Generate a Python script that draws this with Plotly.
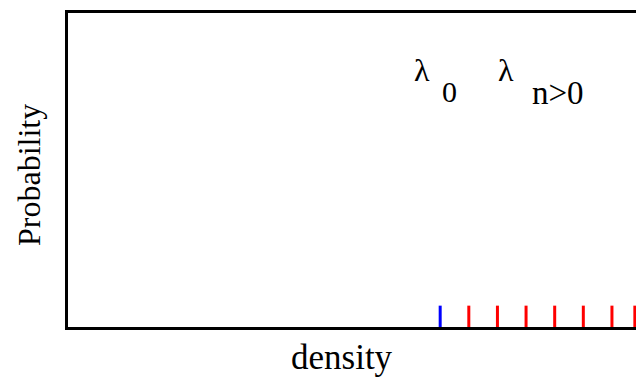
import plotly.graph_objects as go

# Data
ground_level = [13.0]                       # lambda_0 (blue)
excited_levels = [14.0, 15.0, 16.0, 17.0, 18.0, 19.0, 19.8]  # lambda_{n>0} (red)
tick_height = 0.068
x_range = [0.0, 19.84]
y_range = [0.0, 1.0]

def segs(vals, h):
    xs, ys = [], []
    for v in vals:
        xs += [v, v, None]
        ys += [0, h, None]
    return xs, ys

fig = go.Figure()
bx, by = segs(ground_level, tick_height)
rx, ry = segs(excited_levels, tick_height)
fig.add_trace(go.Scatter(x=bx, y=by, mode="lines", line=dict(color="#0000ff", width=3),
                         showlegend=False, hoverinfo="skip"))
fig.add_trace(go.Scatter(x=rx, y=ry, mode="lines", line=dict(color="#ff0000", width=3),
                         showlegend=False, hoverinfo="skip"))

font = "Liberation Serif, Times New Roman, serif"
fig.update_layout(
    width=636, height=379,
    margin=dict(l=68, r=0, t=13, b=52),
    paper_bgcolor="white", plot_bgcolor="white",
    font=dict(family=font, color="black"),
    xaxis=dict(range=x_range, showgrid=False, zeroline=False, showticklabels=False,
               ticks="", showline=True, linecolor="black", linewidth=3, mirror=True,
               fixedrange=True),
    yaxis=dict(range=y_range, showgrid=False, zeroline=False, showticklabels=False,
               ticks="", showline=True, linecolor="black", linewidth=3, mirror=False,
               fixedrange=True),
)

ann = [
    dict(text="λ", x=0.623, y=0.818, size=32),
    dict(text="0", x=0.6725, y=0.75, size=30),
    dict(text="λ", x=0.771, y=0.818, size=32),
    dict(text="n&gt;0", x=0.8627, y=0.745, size=33),
]
for a in ann:
    fig.add_annotation(text=a["text"], x=a["x"], y=a["y"], xref="paper", yref="paper",
                       showarrow=False, xanchor="center", yanchor="middle",
                       font=dict(family=font, size=a["size"], color="black"))

fig.add_annotation(text="density", x=(341.5 - 68) / 568, y=-0.097, xref="paper", yref="paper",
                   showarrow=False, xanchor="center", yanchor="middle",
                   font=dict(family=font, size=35, color="black"))
fig.add_annotation(text="Probability", x=(29 - 68) / 568, y=(327 - 175) / 314, xref="paper",
                   yref="paper", showarrow=False, xanchor="center", yanchor="middle",
                   textangle=-90, font=dict(family=font, size=32, color="black"))

fig.write_html("out.html", post_script="document.body.style.margin='0';",
               config={"displayModeBar": False})
